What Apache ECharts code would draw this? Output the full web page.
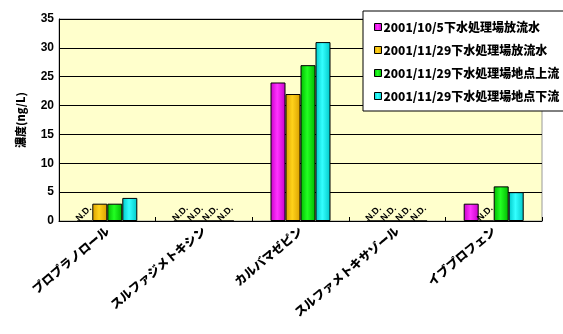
<!DOCTYPE html>
<html>
<head>
<meta charset="utf-8">
<script src="https://cdn.jsdelivr.net/npm/echarts@6/dist/echarts.min.js"></script>
<style>
  html, body { margin: 0; padding: 0; background: #fff; }
  #chart { width: 563px; height: 334px; }
</style>
</head>
<body>
<div id="chart"></div>
<script>
// N.D. = null
var categories = ['プロプラノロール', 'スルファジメトキシン', 'カルバマゼピン', 'スルファメトキサゾール', 'イブプロフェン']
var seriesNames = [
  '2001/10/5下水処理場放流水',
  '2001/11/29下水処理場放流水',
  '2001/11/29下水処理場地点上流',
  '2001/11/29下水処理場地点下流'
]
var s1 = [null, null, 24, null, 3]
var s2 = [3, null, 22, null, null]
var s3 = [3, null, 27, null, 6]
var s4 = [4, null, 31, null, 5]
var yTicks = [0, 5, 10, 15, 20, 25, 30, 35]

var colors = [
  ['#c800c8', '#ff33ff'],
  ['#d9a000', '#ffd21a'],
  ['#00b800', '#22ff22'],
  ['#00c8c8', '#33ffff']
]
var jpFont = '"Noto Sans CJK JP", sans-serif'
var barW = 15

var chart = echarts.init(document.getElementById('chart'))
var allData = [s1, s2, s3, s4]

function makeData(arr) {
  return arr.map(function (v) {
    return v === null ? { value: 0, nd: true } : { value: v }
  })
}

var option = {
  animation: false,
  grid: {
    left: 59,
    right: 21,
    top: 19,
    bottom: 113,
    show: true,
    backgroundColor: '#ffffcc',
    borderColor: '#999',
    borderWidth: 1
  },
  legend: {
    orient: 'vertical',
    left: 363,
    top: 11,
    backgroundColor: '#fff',
    borderColor: '#000',
    borderWidth: 1,
    padding: [9, 8, 8, 11],
    itemGap: 9,
    itemWidth: 7,
    itemHeight: 7,
    itemStyle: { borderColor: '#000', borderWidth: 1 },
    icon: 'rect',
    textStyle: { fontFamily: jpFont, fontWeight: 900, fontSize: 12, lineHeight: 14, color: '#000', padding: [0, 0, 0, -3] },
    data: seriesNames
  },
  xAxis: {
    type: 'category',
    data: categories,
    axisLine: { lineStyle: { color: '#000', width: 1 } },
    axisTick: { show: true, inside: true, length: 4, lineStyle: { color: '#000' } },
    axisLabel: {
      rotate: 40,
      interval: 0,
      margin: 8,
      fontFamily: jpFont,
      fontWeight: 900,
      fontSize: 12,
      color: '#000'
    }
  },
  yAxis: {
    type: 'value',
    min: yTicks[0],
    max: yTicks[yTicks.length - 1],
    interval: 5,
    name: '濃度(ng/L)',
    nameLocation: 'middle',
    nameGap: 33,
    nameTextStyle: { fontFamily: jpFont, fontWeight: 900, fontSize: 11, color: '#000' },
    axisLine: { show: true, lineStyle: { color: '#000', width: 1 } },
    axisTick: { show: false },
    splitLine: { lineStyle: { color: '#000', width: 1 } },
    axisLabel: {
      margin: 5,
      fontFamily: 'Arial, sans-serif',
      fontWeight: 'bold',
      fontSize: 12,
      color: '#000'
    }
  },
  series: seriesNames.map(function (name, i) {
    return {
      name: name,
      type: 'bar',
      barWidth: barW,
      barGap: '0%',
      data: makeData(allData[i]),
      label: {
        show: true,
        position: 'insideBottom',
        distance: 0,
        fontSize: 9,
        fontWeight: 'bold',
        fontFamily: 'Arial, sans-serif',
        color: '#000',
        formatter: function (p) { return p.data.nd ? 'N.D.' : '' }
      },
      labelLayout: function (p) {
        return {
          x: p.rect.x + p.rect.width / 2 - 1,
          y: p.rect.y - 7,
          rotate: 45,
          align: 'center',
          verticalAlign: 'middle'
        }
      },
      itemStyle: {
        borderColor: '#000',
        borderWidth: 1,
        color: new echarts.graphic.LinearGradient(0, 0, 1, 0, [
          { offset: 0, color: colors[i][0] },
          { offset: 0.45, color: colors[i][1] },
          { offset: 1, color: colors[i][0] }
        ])
      }
    }
  })
}

chart.setOption(option)
</script>
</body>
</html>
